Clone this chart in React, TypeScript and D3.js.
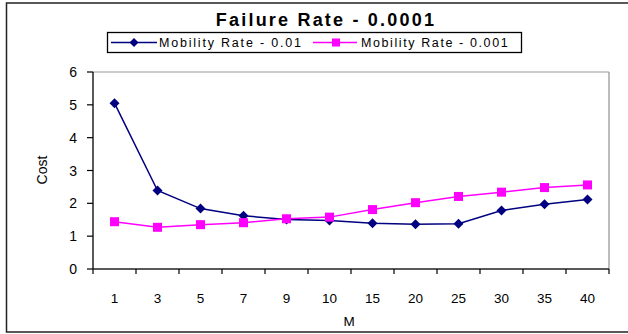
import React from "react";
import * as d3 from "d3";

const categories = ["1", "3", "5", "7", "9", "10", "15", "20", "25", "30", "35", "40"];
const mobility001 = [5.05, 2.39, 1.84, 1.62, 1.51, 1.48, 1.39, 1.36, 1.38, 1.78, 1.97, 2.12];
const mobility0001 = [1.44, 1.27, 1.35, 1.41, 1.53, 1.58, 1.81, 2.02, 2.21, 2.34, 2.48, 2.56];
const yTicks = [0, 1, 2, 3, 4, 5, 6];
const seriesNames = ["Mobility Rate - 0.01", "Mobility Rate - 0.001"];

const W = 628, H = 334;
const plot = { left: 93, right: 609, top: 72, bottom: 269 };
const font = "'Liberation Sans', Arial, sans-serif";

export default function App() {
  const x = d3.scaleBand<string>().domain(categories).range([plot.left, plot.right]);
  const y = d3.scaleLinear().domain([0, 6]).range([plot.bottom, plot.top]);
  const line = d3.line<number>()
    .x((_, i) => (x(categories[i]) as number) + x.bandwidth() / 2)
    .y((d) => y(d));
  const blue = "#000080";
  const pink = "#FF00FF";
  const diamond = (cx: number, cy: number, r: number) =>
    `M${cx},${cy - r}L${cx + r},${cy}L${cx},${cy + r}L${cx - r},${cy}Z`;
  const tickXs = d3.range(categories.length + 1).map((i) => plot.left + i * x.step());

  return (
    <svg width={W} height={H} style={{ position: "absolute", left: 0, top: 0, background: "#fff" }} fontFamily={font}>
      <rect x={6.5} y={3} width={640} height={329} fill="#fff" stroke="#222" strokeWidth={1.5} />
      <text x={326} y={26} textAnchor="middle" fontSize={18} fontWeight="bold" letterSpacing={2.2}>Failure Rate - 0.0001</text>
      {/* legend */}
      <rect x={107.5} y={32.5} width={414} height={20} fill="#fff" stroke="#000" strokeWidth={1.3} />
      <line x1={111} x2={157} y1={42.5} y2={42.5} stroke={blue} strokeWidth={1.5} />
      <path d={diamond(134, 42.5, 4.5)} fill={blue} />
      <text x={159} y={47} fontSize={12.5} letterSpacing={1.8}>{seriesNames[0]}</text>
      <line x1={313} x2={357} y1={42.5} y2={42.5} stroke={pink} strokeWidth={1.5} />
      <rect x={332} y={38.5} width={8} height={8} fill={pink} />
      <text x={361} y={47} fontSize={12.5} letterSpacing={1.6}>{seriesNames[1]}</text>
      {/* plot frame */}
      <line x1={plot.left} x2={plot.right} y1={plot.top} y2={plot.top} stroke="#999" />
      <line x1={plot.right} x2={plot.right} y1={plot.top} y2={plot.bottom} stroke="#999" strokeWidth={1.3} />
      <line x1={plot.left} x2={plot.left} y1={plot.top} y2={plot.bottom} stroke="#000" strokeWidth={1.3} />
      <line x1={plot.left} x2={plot.right} y1={plot.bottom} y2={plot.bottom} stroke="#222" strokeWidth={1.3} />
      {yTicks.map((t) => (
        <g key={t}>
          <line x1={plot.left - 6} x2={plot.left} y1={y(t)} y2={y(t)} stroke="#000" strokeWidth={1.2} />
          <text x={77} y={y(t) + 5} textAnchor="end" fontSize={14}>{t}</text>
        </g>
      ))}
      {tickXs.map((tx, i) => (
        <line key={i} x1={tx} x2={tx} y1={plot.bottom} y2={plot.bottom + 5} stroke="#000" strokeWidth={1.2} />
      ))}
      {categories.map((c) => (
        <text key={c} x={(x(c) as number) + x.bandwidth() / 2} y={303} textAnchor="middle" fontSize={13.5}>{c}</text>
      ))}
      <text x={349} y={326} textAnchor="middle" fontSize={13.5}>M</text>
      <text transform={`translate(47,170) rotate(-90)`} textAnchor="middle" fontSize={14}>Cost</text>
      {/* series */}
      <path d={line(mobility001) as string} fill="none" stroke={blue} strokeWidth={1.5} />
      <path d={line(mobility0001) as string} fill="none" stroke={pink} strokeWidth={1.5} />
      {mobility001.map((v, i) => (
        <path key={"b" + i} d={diamond((x(categories[i]) as number) + x.bandwidth() / 2, y(v), 5)} fill={blue} />
      ))}
      {mobility0001.map((v, i) => (
        <rect key={"p" + i} x={(x(categories[i]) as number) + x.bandwidth() / 2 - 4.5} y={y(v) - 4.5} width={9} height={9} fill={pink} />
      ))}
    </svg>
  );
}
